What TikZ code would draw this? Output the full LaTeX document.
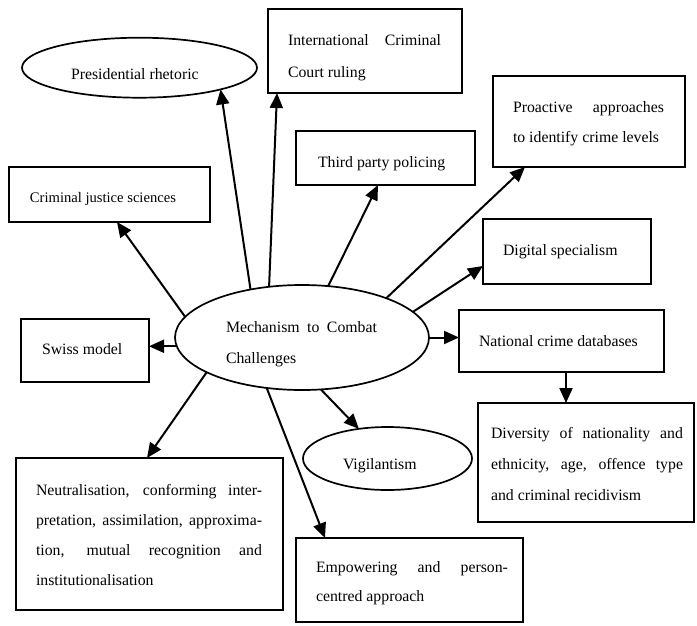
\documentclass[tikz,border=0pt]{standalone}
\usepackage{fontspec}
\setmainfont{Liberation Serif}
\usetikzlibrary{arrows.meta,shapes.geometric}
\begin{document}
\begin{tikzpicture}[x=1pt,y=-1pt,
  box/.style={draw, line width=1.9pt, inner sep=0pt, outer sep=0pt},
  oval/.style={draw, ellipse, line width=1.7pt, inner sep=0pt, outer sep=0pt},
  txt/.style={inner sep=0pt, outer sep=0pt, anchor=base west, font=\fontsize{15.8}{30.5}\selectfont},
  arr/.style={-{Triangle[length=15pt,width=13pt]}, line width=2pt}]
\fill[white] (0,0) rectangle (697,625);
\useasboundingbox (0,0) rectangle (697,625);
% shapes
\node[oval, minimum width=235pt, minimum height=60pt] (pr) at (139.5,67.7) {};
\node[oval, minimum width=254pt, minimum height=105pt] (c) at (302,337.5) {};
\node[oval, minimum width=169pt, minimum height=63pt] (vig) at (387.5,458.5) {};
\node[box, minimum width=194pt, minimum height=84pt] (icc) at (365,51) {};
\node[box, minimum width=179pt, minimum height=54pt] (tp) at (385.5,158) {};
\node[box, minimum width=192pt, minimum height=91pt] (pro) at (589,121.5) {};
\node[box, minimum width=201pt, minimum height=55pt] (cj) at (109.5,194.5) {};
\node[box, minimum width=168pt, minimum height=65pt] (dig) at (567,251.5) {};
\node[box, minimum width=128pt, minimum height=63pt] (sw) at (85,350.5) {};
\node[box, minimum width=205pt, minimum height=62pt] (nat) at (561.5,341) {};
\node[box, minimum width=216pt, minimum height=119pt] (div) at (586,462.5) {};
\node[box, minimum width=267pt, minimum height=152pt] (neu) at (149.5,534) {};
\node[box, minimum width=227pt, minimum height=84pt] (emp) at (409.5,580) {};
% texts
\node[txt] (pr-t) at (71,79) {Presidential rhetoric};
\node[txt] (c-t) at (226,332.5) {\parbox[t]{151pt}{\makebox[151pt][s]{Mechanism to Combat}\\Challenges}};
\node[txt] (vig-t) at (343,469) {Vigilantism};
\node[txt] (icc-t) at (288,45) {\parbox[t]{153pt}{\fontsize{15.8}{32}\selectfont\makebox[153pt][s]{International Criminal}\\Court ruling}};
\node[txt] (tp-t) at (318,167) {Third party policing};
\node[txt] (pro-t) at (513,112) {\parbox[t]{151pt}{\makebox[151pt][s]{Proactive approaches}\\to identify crime levels}};
\node[txt, font=\fontsize{14.6}{30}\selectfont] (cj-t) at (30,202) {Criminal justice sciences};
\node[txt] (dig-t) at (503,255) {Digital specialism};
\node[txt] (sw-t) at (42,354) {Swiss model};
\node[txt] (nat-t) at (479,346.5) {National crime databases};
\node[txt] (div-t) at (491,438) {\parbox[t]{192pt}{\fontsize{15.8}{31}\selectfont\makebox[192pt][s]{Diversity of nationality and}\\\makebox[192pt][s]{ethnicity, age, offence type}\\and criminal recidivism}};
\node[txt] (neu-t) at (36,495) {\parbox[t]{226pt}{\fontsize{15.8}{30}\selectfont\makebox[226pt][s]{Neutralisation, conforming inter-}\\\makebox[226pt][s]{pretation, assimilation, approxima-}\\\makebox[226pt][s]{tion, mutual recognition and}\\institutionalisation}};
\node[txt] (emp-t) at (316,572) {\parbox[t]{192pt}{\fontsize{15.8}{29}\selectfont\makebox[192pt][s]{Empowering and person-}\\centred approach}};
% connectors
\coordinate (nd) at ([xshift=107pt]nat.south west);
\draw[arr] (c.137) -- (pr.-15);
\draw[arr] (c.123) -- ([xshift=9pt]icc.south west);
\draw[arr] (c.63.7) -- ([xshift=82pt]tp.south west);
\draw[arr] (c.25.5) -- ([xshift=32pt]pro.south west);
\draw[arr] (c.13.4) -- ([yshift=18pt]dig.south west);
\draw[arr] (c.0) -- (c.0 -| nat.west);
\draw[arr] (nd) -- (nd |- div.north);
\draw[arr] (c.184) -- (c.184 -| sw.east);
\draw[arr] (c.170.7) -- ([xshift=108pt]cj.south west);
\draw[arr] (c.200.9) -- ([xshift=131pt]neu.north west);
\draw[arr] (c.235.3) -- ([xshift=29pt]emp.north west);
\draw[arr] (c.290.9) -- (vig.134);
\end{tikzpicture}
\end{document}
